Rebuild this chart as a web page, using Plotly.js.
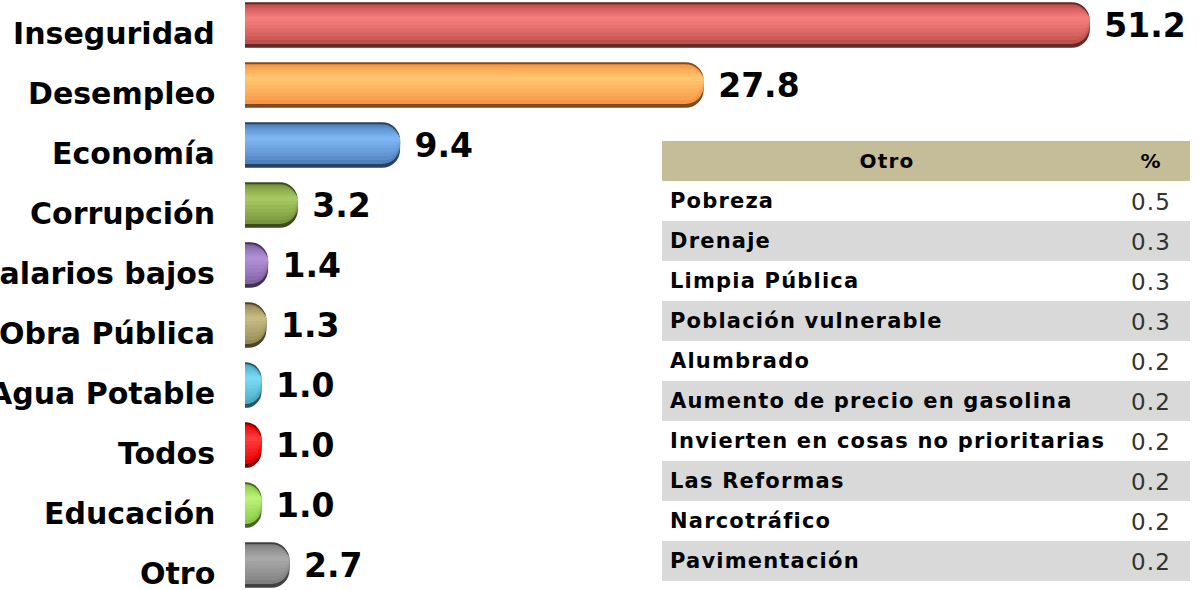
<!DOCTYPE html>
<html>
<head>
<meta charset="utf-8">
<script src="https://cdn.plot.ly/plotly-3.0.1.min.js"></script>
<style>
  html, body { margin: 0; padding: 0; background: #ffffff; overflow: hidden; }
  #chart { width: 1198px; height: 590px; }
  text.cell-text { letter-spacing: 1.2px; }
  g.y-column:nth-of-type(2) g.column-block:not(#header) text.cell-text { translate: 0px 4px; }
</style>
</head>
<body>
<div id="chart"></div>
<script>
// ---- data ----
const categories = ["Inseguridad", "Desempleo", "Economía", "Corrupción", "Salarios bajos",
                    "Obra Pública", "Agua Potable", "Todos", "Educación", "Otro"];
const values = [51.2, 27.8, 9.4, 3.2, 1.4, 1.3, 1.0, 1.0, 1.0, 2.7];

const otherLabels = ["Pobreza", "Drenaje", "Limpia Pública", "Población vulnerable", "Alumbrado",
                     "Aumento de precio en gasolina", "Invierten en cosas no prioritarias",
                     "Las Reformas", "Narcotráfico", "Pavimentación"];
const otherValues = [0.5, 0.3, 0.3, 0.3, 0.2, 0.2, 0.2, 0.2, 0.2, 0.2];
const tableHeader = ["Otro", "%"];

// ---- style ----
const baseColors  = ["#c0504d", "#f79646", "#4f81bd", "#77933c", "#8064a2",
                     "#948a54", "#4bacc6", "#e80000", "#8cc84a", "#7f7f7f"];
const lightColors = ["#f47d7b", "#ffc56f", "#7db5f2", "#a6c862", "#b08fd6",
                     "#c6bc82", "#7ad9f2", "#ff3a3a", "#b9f274", "#a8a8a8"];

function hexToRgb(h) { const n = parseInt(h.slice(1), 16); return [(n >> 16) & 255, (n >> 8) & 255, n & 255]; }
function mix(a, b, t) {
  const A = hexToRgb(a), B = hexToRgb(b);
  return "rgb(" + A.map((v, i) => Math.round(v + (B[i] - v) * t)).join(",") + ")";
}
function darken(h, f) { const A = hexToRgb(h); return "rgb(" + A.map(v => Math.round(v * f)).join(",") + ")"; }

const HALF = 0.38;
const N = 8;
const traces = [];
for (let k = 0; k < N; k++) {
  const top = -HALF + k * 0.034;
  const bot = HALF - k * 0.064;
  let colors;
  if (k === 0) colors = baseColors.map(c => darken(c, 0.5));
  else {
    const t = Math.pow((k - 1) / (N - 2), 0.8);
    colors = baseColors.map((c, i) => mix(c, lightColors[i], t));
  }
  const thickPx = (bot - top) * 60;
  traces.push({
    type: "bar",
    orientation: "h",
    y: categories,
    x: values,
    offset: top,
    width: bot - top,
    marker: { color: colors, line: { width: 0 }, cornerradius: Math.min(18, thickPx / 2) },
    text: k === 0 ? values.map(v => "\u00a0" + v.toFixed(1)) : undefined,
    textposition: k === 0 ? "outside" : "none",
    textfont: { family: "DejaVu Sans", size: 33, color: "#000000", weight: "bold" },
    constraintext: "none",
    cliponaxis: false,
    hoverinfo: "skip",
    showlegend: false
  });
}

const rowFill = otherLabels.map((_, i) => (i % 2 === 0 ? "#ffffff" : "#d9d9d9"));

traces.push({
  type: "table",
  domain: { x: [(662 - 245) / 953, (1190 - 245) / 953], y: [0, 1 - 141 / 590] },
  columnwidth: [450, 78],
  header: {
    values: tableHeader.map(h => "<b>" + h + "</b>"),
    fill: { color: "#c4bd97" },
    line: { color: "rgba(0,0,0,0)", width: 0 },
    align: "center",
    height: 40,
    font: { family: "DejaVu Sans", size: 20, color: "#000000" }
  },
  cells: {
    values: [otherLabels.map(s => "<b>" + s.replace(/ /g, "\u00a0") + "</b>"),
             otherValues.map(v => v.toFixed(1))],
    fill: { color: [rowFill, rowFill] },
    line: { color: "rgba(0,0,0,0)", width: 0 },
    align: ["left", "center"],
    height: 40,
    font: { family: "DejaVu Sans", size: [21, 23], color: ["#000000", "#333333"] }
  }
});

const annotations = categories.map(c => ({
  xref: "paper", yref: "y", x: 0, y: c,
  xanchor: "right", yanchor: "middle",
  xshift: -28, yshift: -8,
  text: "<b>" + c + "</b>",
  showarrow: false,
  font: { family: "DejaVu Sans", size: 30, color: "#000000" }
}));

const layout = {
  width: 1198, height: 590,
  margin: { l: 245, r: 0, t: 0, b: 0, pad: 0 },
  paper_bgcolor: "#ffffff", plot_bgcolor: "#ffffff",
  barmode: "overlay",
  xaxis: { range: [0, 57.76], visible: false, fixedrange: true },
  yaxis: {
    type: "category", categoryarray: categories, categoryorder: "array",
    range: [9.4167, -0.4167], showticklabels: false, showgrid: false,
    zeroline: false, showline: false, ticks: "", fixedrange: true
  },
  annotations: annotations,
  showlegend: false
};

Plotly.newPlot("chart", traces, layout, { displayModeBar: false, staticPlot: true });
</script>
</body>
</html>
